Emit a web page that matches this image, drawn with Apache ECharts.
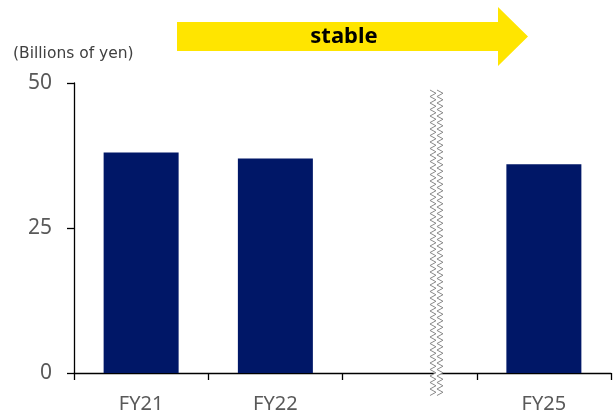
<!DOCTYPE html>
<html>
<head>
<meta charset="utf-8">
<script src="https://cdn.jsdelivr.net/npm/echarts@6/dist/echarts.min.js"></script>
<style>
  html, body { margin: 0; padding: 0; background: #fff; }
  #chart { width: 614px; height: 417px; }
</style>
</head>
<body>
<div id="chart"></div>
<script>
// Fiscal years on the category axis (the empty slot holds the axis break)
const categories = ['FY21', 'FY22', '', 'FY25'];
// Revenue in billions of yen
const revenue = [38, 37, null, 36];
// Value-axis ticks
const yTicks = { min: 0, max: 50, interval: 25 };
const unitLabel = '(Billions of yen)';
const trendLabel = 'stable';

const FONT = '"Noto Sans", "Open Sans", sans-serif';
const chart = echarts.init(document.getElementById('chart'), null, { renderer: 'canvas' });

// Zigzag break lines drawn over the plot between FY22 and FY25
function zigzag(x0, yTop, yBottom, step, amp) {
  const pts = [];
  let k = 0;
  for (let y = yTop; y <= yBottom; y += step / 2, k++) {
    pts.push([x0 + (k % 2 === 0 ? -amp : amp), y]);
  }
  return pts;
}

function breakGraphics(xMid) {
  const gap = 7;
  const left = zigzag(xMid - gap / 2, 90, 398, 6.5, 3);
  const right = zigzag(xMid + gap / 2, 90, 398, 6.5, 3);
  const fill = left.concat(right.slice().reverse());
  return [
    { type: 'polygon', shape: { points: fill }, style: { fill: '#fff' }, z: 100 },
    { type: 'polyline', shape: { points: left }, style: { stroke: '#8a8a8a', lineWidth: 1, fill: null }, z: 101 },
    { type: 'polyline', shape: { points: right }, style: { stroke: '#8a8a8a', lineWidth: 1, fill: null }, z: 101 }
  ];
}

const arrow = {
  type: 'polygon',
  shape: { points: [[177, 22], [498, 22], [498, 7], [528, 36.5], [498, 66], [498, 51], [177, 51]] },
  style: { fill: '#FFE500' },
  z: 50
};

const option = {
  animation: false,
  grid: { left: 74, right: 3, top: 83, bottom: 44, containLabel: false },
  xAxis: {
    type: 'category',
    data: categories,
    boundaryGap: true,
    axisLine: { lineStyle: { color: '#000', width: 1.3 } },
    axisTick: { show: true, interval: 0, length: 7, lineStyle: { color: '#000', width: 1.3 } },
    axisLabel: { interval: 0, color: '#595959', fontSize: 20, fontFamily: FONT, margin: 21 }
  },
  yAxis: {
    type: 'value',
    min: yTicks.min,
    max: yTicks.max,
    interval: yTicks.interval,
    axisLine: { show: true, lineStyle: { color: '#000', width: 1.3 } },
    axisTick: { show: true, length: 7, lineStyle: { color: '#000', width: 1.3 } },
    axisLabel: { color: '#595959', fontSize: 21, fontFamily: FONT, margin: 22 },
    splitLine: { show: false }
  },
  series: [{
    type: 'bar',
    data: revenue,
    barWidth: 75,
    itemStyle: { color: '#001767' }
  }],
  graphic: [
    arrow,
    {
      type: 'text',
      x: 344, y: 37,
      style: { text: trendLabel, fill: '#000', font: 'bold 22px ' + FONT, align: 'center', verticalAlign: 'middle' },
      z: 51
    },
    {
      type: 'text',
      x: 13, y: 54,
      style: { text: unitLabel, fill: '#404040', font: '15.5px "DejaVu Sans", sans-serif', align: 'left', verticalAlign: 'middle' },
      z: 51
    }
  ]
};

chart.setOption(option);

// Place the break between the empty slot and FY25
const xEmpty = chart.convertToPixel({ xAxisIndex: 0 }, 2);
const xNext = chart.convertToPixel({ xAxisIndex: 0 }, 3);
const xBreak = xEmpty + (xNext - xEmpty) * 0.2;
chart.setOption({ graphic: option.graphic.concat(breakGraphics(xBreak)) });
</script>
</body>
</html>
